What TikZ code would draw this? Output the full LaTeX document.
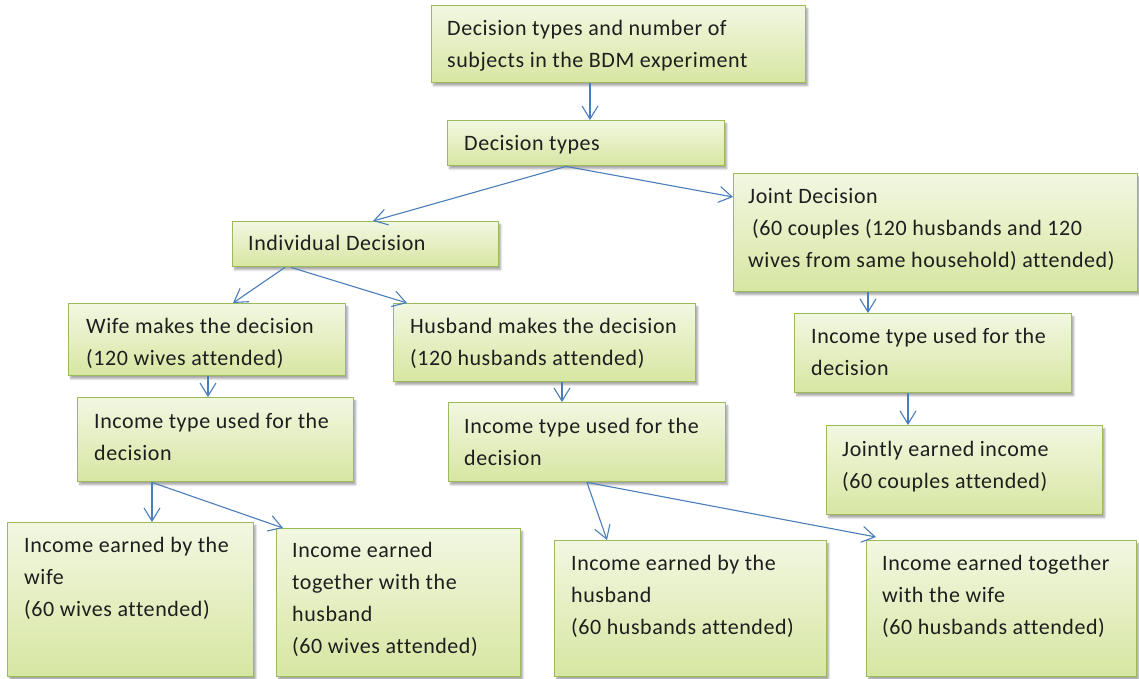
\documentclass[tikz,border=0pt]{standalone}
\usepackage{fontspec}
\setmainfont{Carlito}[Ligatures=NoCommon, LetterSpace=2.5]
\usetikzlibrary{arrows.meta,shadows.blur}
\definecolor{boxborder}{HTML}{9BBB59}
\definecolor{boxtop}{HTML}{F2F7E1}
\definecolor{boxbot}{HTML}{D7E6A2}
\definecolor{arrowblue}{HTML}{4A7EBB}
\definecolor{txtcol}{HTML}{1E1E1E}
\tikzset{
  box/.style={draw=boxborder, line width=1.4pt, top color=boxtop, bottom color=boxbot,
    anchor=north west, inner sep=0pt,
    blur shadow={shadow xshift=2pt, shadow yshift=-3pt, shadow blur steps=6, shadow opacity=35}},
  txt/.style={anchor=base west, inner sep=0pt, text=txtcol, font=\fontsize{22}{32}\selectfont},
  conn/.style={draw=arrowblue, line width=1.1pt, -{Straight Barb[length=13pt,width=16pt,line width=1.1pt]}}
}
\newcommand{\tl}[1]{\parbox[t]{14cm}{\raggedright #1}}
\begin{document}
\begin{tikzpicture}[x=1pt,y=-1pt]
\useasboundingbox (0,0) rectangle (1139,678);
% boxes
\node[box, minimum width=374pt, minimum height=77pt] (top) at (431,5) {};
\node[box, minimum width=277pt, minimum height=45pt] (dt) at (447,120) {};
\node[box, minimum width=266pt, minimum height=45pt] (ind) at (232,221) {};
\node[box, minimum width=404pt, minimum height=118pt] (jd) at (733,173) {};
\node[box, minimum width=277pt, minimum height=72pt] (wife) at (68,303) {};
\node[box, minimum width=302pt, minimum height=78pt] (hus) at (393,303) {};
\node[box, minimum width=276pt, minimum height=84pt] (itw) at (77,397) {};
\node[box, minimum width=277pt, minimum height=79pt] (ith) at (448,402) {};
\node[box, minimum width=277pt, minimum height=79pt] (itj) at (794,313) {};
\node[box, minimum width=276pt, minimum height=89pt] (jei) at (826,425) {};
\node[box, minimum width=246pt, minimum height=154pt] (iew) at (7,522) {};
\node[box, minimum width=244pt, minimum height=148pt] (ieth) at (276,528) {};
\node[box, minimum width=272pt, minimum height=136pt] (ieh) at (554,540) {};
\node[box, minimum width=270pt, minimum height=136pt] (ietw) at (866,540) {};
% texts
\node[txt] (ttop) at (447,35) {\tl{Decision types and number of\\subjects in the BDM experiment}};
\node[txt] (tdt) at (464,150) {\tl{Decision types}};
\node[txt] (tind) at (248,250) {\tl{Individual Decision}};
\node[txt] (tjd) at (748,203) {\tl{Joint Decision\\\hspace*{4pt}(60 couples (120 husbands and 120\\wives from same household) attended)}};
\node[txt] (twife) at (86,333) {\tl{Wife makes the decision\\(120 wives attended)}};
\node[txt] (thus) at (410,333) {\tl{Husband makes the decision\\(120 husbands attended)}};
\node[txt] (titw) at (94,428) {\tl{Income type used for the\\decision}};
\node[txt] (tith) at (464,433) {\tl{Income type used for the\\decision}};
\node[txt] (titj) at (811,343) {\tl{Income type used for the\\decision}};
\node[txt] (tjei) at (842,456) {\tl{Jointly earned income\\(60 couples attended)}};
\node[txt] (tiew) at (24,552) {\tl{Income earned by the\\wife\\(60 wives attended)}};
\node[txt] (tieth) at (292,557) {\tl{Income earned\\together with the\\husband\\(60 wives attended)}};
\node[txt] (tieh) at (571,570) {\tl{Income earned by the\\husband\\(60 husbands attended)}};
\node[txt] (tietw) at (882,570) {\tl{Income earned together\\with the wife\\(60 husbands attended)}};
% connectors
\draw[conn] (top.south west) ++(159,0) coordinate (s1) -- (s1 |- dt.north);
\coordinate (s2) at ([xshift=119pt]dt.south west);
\draw[conn] (s2) -- ([xshift=141pt]ind.north west);
\draw[conn] (s2) -- ([yshift=-24pt]jd.north west);
\draw[conn] ([xshift=53pt]ind.south west) -- ([xshift=165pt]wife.north west);
\draw[conn] ([xshift=59pt]ind.south west) -- ([xshift=14pt]hus.north west);
\draw[conn] ([xshift=140pt]wife.south west) coordinate (s6) -- (s6 |- itw.north);
\draw[conn] ([xshift=169pt]hus.south west) coordinate (s7) -- (s7 |- ith.north);
\draw[conn] ([xshift=135pt]jd.south west) coordinate (s8) -- (s8 |- itj.north);
\draw[conn] ([xshift=114pt]itj.south west) coordinate (s9) -- (s9 |- jei.north);
\coordinate (s10) at ([xshift=75pt]itw.south west);
\draw[conn] (s10) -- (s10 |- iew.north);
\draw[conn] (s10) -- ([xshift=7pt]ieth.north west);
\coordinate (s12) at ([xshift=139pt]ith.south west);
\draw[conn] (s12) -- ([xshift=53pt]ieh.north west);
\draw[conn] (s12) -- ([xshift=10pt,yshift=3pt]ietw.north west);
\end{tikzpicture}
\end{document}
